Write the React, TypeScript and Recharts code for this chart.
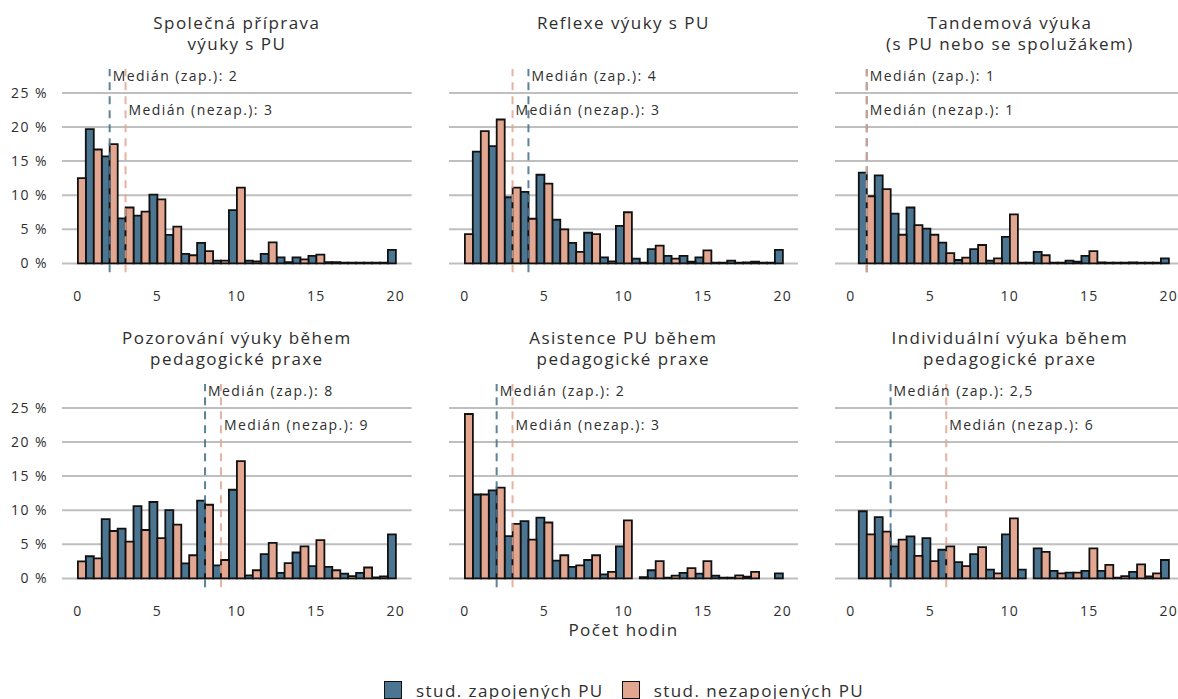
import React from 'react';
import { BarChart, Bar, XAxis, YAxis, CartesianGrid, ReferenceLine, ReferenceDot } from 'recharts';

const BLUE = '#4b7590';
const SALMON = '#e3a690';
const TEXT = '#2e2e2e';
const GRID = '#bfbfbf';

// hours (bins)
const bins = [0, 1, 2, 3, 4, 5, 6, 7, 8, 9, 10, 11, 12, 13, 14, 15, 16, 17, 18, 19, 20];
const yTicks = [0, 5, 10, 15, 20, 25];

// percent of students, per panel
const zapPriprava = [null, 19.7, 15.7, 6.6, 7.0, 10.1, 4.2, 1.4, 3.0, 0.4, 7.8, 0.4, 1.4, 0.9, 0.9, 1.1, 0.2, 0.1, 0.1, 0.1, 2.0];
const nezapPriprava = [12.5, 16.7, 17.5, 8.2, 7.6, 9.4, 5.4, 1.2, 1.8, 0.4, 11.1, 0.3, 3.1, 0.2, 0.6, 1.3, 0.2, 0.1, 0.1, 0.1, null];

const zapReflexe = [null, 16.4, 17.2, 9.7, 10.5, 13.0, 6.4, 3.0, 4.5, 0.9, 5.5, 0.7, 2.1, 1.1, 1.1, 0.9, 0.1, 0.4, 0.15, 0.1, 2.0];
const nezapReflexe = [4.3, 19.4, 21.1, 11.1, 6.55, 11.7, 5.0, 1.7, 4.3, 0.3, 7.5, 0.1, 2.6, 0.7, 0.25, 1.9, 0.1, 0.1, 0.25, 0.1, null];

const zapTandem = [null, 13.3, 12.9, 7.3, 8.2, 5.1, 3.05, 0.5, 2.1, 0.4, 3.9, 0.1, 1.7, 0.1, 0.4, 1.1, 0.15, 0.1, 0.15, 0.1, 0.75];
const nezapTandem = [null, 9.85, 10.9, 4.2, 5.6, 4.2, 1.5, 0.85, 2.7, 0.75, 7.2, 0.1, 1.2, 0.1, 0.25, 1.8, 0.1, 0.1, 0.1, 0.1, null];

const zapPozorovani = [null, 3.25, 8.7, 7.3, 10.6, 11.2, 10.0, 2.2, 11.4, 1.9, 13.0, 0.45, 3.55, 0.8, 3.8, 1.8, 1.7, 0.7, 0.8, 0.15, 6.45];
const nezapPozorovani = [2.5, 2.95, 6.95, 5.4, 7.1, 5.9, 7.9, 3.4, 10.8, 2.7, 17.2, 1.2, 5.2, 2.25, 4.7, 5.6, 1.2, 0.35, 1.6, 0.3, null];

const zapAsistence = [null, 12.3, 12.9, 6.2, 8.4, 8.9, 2.6, 1.7, 2.7, 0.6, 4.7, null, 1.2, 0.1, 0.8, 0.7, 0.4, 0.1, 0.25, null, 0.75];
const nezapAsistence = [24.1, 12.3, 13.3, 8.0, 5.7, 8.2, 3.4, 1.9, 3.4, 0.95, 8.5, 0.2, 2.55, 0.4, 1.5, 2.55, 0.1, 0.45, 0.95, null, null];

const zapIndividualni = [null, 9.85, 9.0, 4.7, 6.15, 5.9, 4.2, 2.4, 3.55, 1.3, 6.45, 1.3, 4.4, 1.1, 0.85, 1.1, 1.1, 0.1, 0.95, 0.3, 2.7];
const nezapIndividualni = [null, 6.45, 6.85, 5.7, 3.3, 2.55, 4.7, 1.8, 4.6, 0.75, 8.8, null, 3.9, 0.75, 0.85, 4.4, 2.0, 0.35, 2.05, 0.75, null];

const panelTitles = [
  ['Společná příprava', 'výuky s PU'],
  ['Reflexe výuky s PU'],
  ['Tandemová výuka', '(s PU nebo se spolužákem)'],
  ['Pozorování výuky během', 'pedagogické praxe'],
  ['Asistence PU během', 'pedagogické praxe'],
  ['Individuální výuka během', 'pedagogické praxe'],
];
const zapSeries = [zapPriprava, zapReflexe, zapTandem, zapPozorovani, zapAsistence, zapIndividualni];
const nezapSeries = [nezapPriprava, nezapReflexe, nezapTandem, nezapPozorovani, nezapAsistence, nezapIndividualni];
const medianZap = [2, 4, 1, 8, 2, 2.5];
const medianNezap = [3, 3, 1, 9, 3, 6];

const FONT = '"Open Sans", sans-serif';
const PLOT_W = 349.7;
const PLOT_H = 203.3;
const Y_W = 62;
const X_H = 42;
const TOP_M = 12;
const colLeft = [62, 448.5, 835];
const rowTop = [68.5, 383.5];
const fmt = (v: number) => String(v).replace('.', ',');

const Panel = ({ idx }: { idx: number }) => {
  const col = idx % 3;
  const row = Math.floor(idx / 3);
  const showY = col === 0;
  const data = bins.map((b, i) => ({ bin: b, zap: zapSeries[idx][i], nezap: nezapSeries[idx][i] }));
  const title = panelTitles[idx];
  return (
    <>
      <div
        style={{
          position: 'absolute',
          left: colLeft[col],
          width: PLOT_W,
          top: row === 0 ? 11.5 : 327,
          textAlign: 'center',
          fontSize: 17,
          lineHeight: '21px',
          color: TEXT,
        }}
      >
        {title.map((t) => (
          <div key={t}>{t}</div>
        ))}
      </div>
      <div style={{ position: 'absolute', left: colLeft[col] - (showY ? Y_W : 0), top: rowTop[row] - TOP_M }}>
        <BarChart
          width={PLOT_W + (showY ? Y_W : 0)}
          height={PLOT_H + X_H + TOP_M}
          data={data}
          margin={{ top: TOP_M, right: 0, bottom: 0, left: 0 }}
          barCategoryGap={0}
          barGap={0}
        >
          <CartesianGrid horizontal vertical={false} horizontalValues={yTicks} stroke={GRID} strokeWidth={2} />
          <XAxis
            dataKey="bin"
            height={X_H}
            interval={4}
            padding={{ left: 7.9, right: 7.9 }}
            tickLine={false}
            axisLine={false}
            tickSize={6}
            tickMargin={13}
            tick={{ fontSize: 14, fill: TEXT }}
          />
          <XAxis
            xAxisId="m"
            dataKey="bin"
            type="number"
            domain={[-0.5, 20.5]}
            allowDataOverflow
            padding={{ left: 7.9, right: 7.9 }}
            hide
          />
          <YAxis
            width={showY ? Y_W : 0}
            hide={!showY}
            domain={[-1.3, 28.5]}
            allowDataOverflow
            ticks={yTicks}
            tickFormatter={(v) => `${v} %`}
            tickLine={false}
            axisLine={false}
            tickSize={6}
            tickMargin={8}
            tick={{ fontSize: 14, fill: TEXT }}
          />
          <Bar dataKey="zap" fill={BLUE} stroke="#111" strokeWidth={1.8} isAnimationActive={false} />
          <Bar dataKey="nezap" fill={SALMON} stroke="#111" strokeWidth={1.8} isAnimationActive={false} />
          <ReferenceLine xAxisId="m" x={medianZap[idx]} stroke={BLUE} strokeWidth={2} strokeDasharray="8 6" strokeOpacity={0.9} />
          <ReferenceLine xAxisId="m" x={medianNezap[idx]} stroke={SALMON} strokeWidth={2} strokeDasharray="8 6" strokeOpacity={0.85} />
          <ReferenceDot
            xAxisId="m"
            x={medianZap[idx]}
            y={27.4}
            r={0}
            fill="none"
            stroke="none"
            label={{ value: `Medián (zap.): ${fmt(medianZap[idx])}`, position: 'right', offset: 3, fontSize: 14, fill: TEXT }}
          />
          <ReferenceDot
            xAxisId="m"
            x={medianNezap[idx]}
            y={22.5}
            r={0}
            fill="none"
            stroke="none"
            label={{ value: `Medián (nezap.): ${fmt(medianNezap[idx])}`, position: 'right', offset: 3, fontSize: 14, fill: TEXT }}
          />
        </BarChart>
      </div>
    </>
  );
};

const LegendKey = ({ color, label }: { color: string; label: string }) => (
  <div style={{ display: 'flex', alignItems: 'center', marginRight: 18 }}>
    <div style={{ width: 16, height: 16, background: color, border: '1.6px solid #111', marginRight: 14 }} />
    <span>{label}</span>
  </div>
);

export default function App() {
  return (
    <div
      style={{
        position: 'absolute',
        left: 0,
        top: 0,
        width: 1178,
        height: 699,
        overflow: 'hidden',
        background: '#fff',
        fontFamily: FONT,
        letterSpacing: '0.09em',
        color: TEXT,
      }}
    >
      {[0, 1, 2, 3, 4, 5].map((i) => (
        <Panel key={i} idx={i} />
      ))}
      <div style={{ position: 'absolute', left: 0, width: 1247, top: 619, textAlign: 'center', fontSize: 17, lineHeight: '22px' }}>
        Počet hodin
      </div>
      <div
        style={{
          position: 'absolute',
          left: 384,
          top: 680,
          height: 20,
          display: 'flex',
          alignItems: 'center',
          fontSize: 17,
          whiteSpace: 'nowrap',
        }}
      >
        <LegendKey color={BLUE} label="stud. zapojených PU" />
        <LegendKey color={SALMON} label="stud. nezapojených PU" />
      </div>
    </div>
  );
}
